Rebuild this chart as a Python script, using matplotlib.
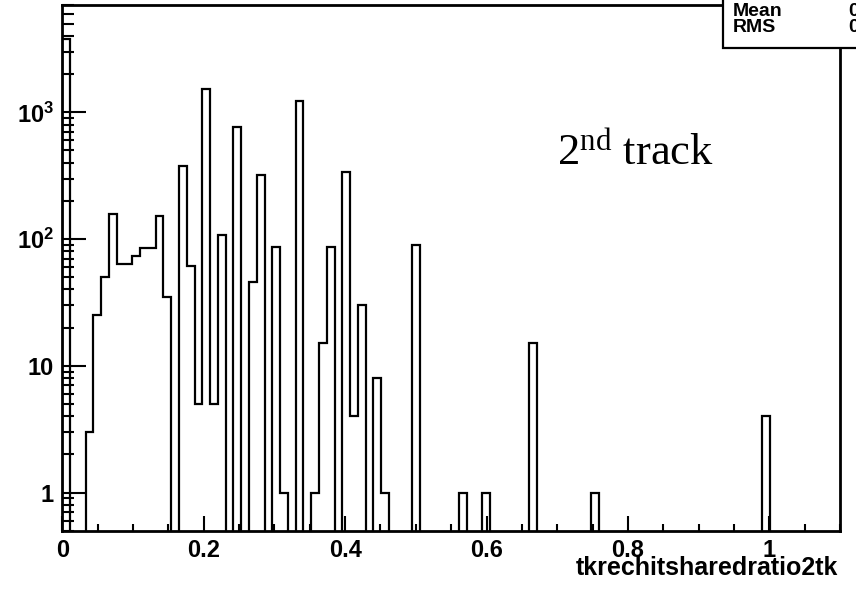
import numpy as np
import matplotlib
matplotlib.use("Agg")
import matplotlib.pyplot as plt
from matplotlib.ticker import FixedLocator, FixedFormatter, LogLocator, MultipleLocator, NullFormatter
from matplotlib.patches import Rectangle
from matplotlib.font_manager import FontProperties

# histogram: 100 bins over [0, 1.1]
n_bins = 100
x_lo, x_hi = 0.0, 1.1
counts = np.zeros(n_bins)
filled_bins = [0, 3, 4, 5, 6, 7, 8, 9, 10, 11, 12, 13, 15, 16, 17, 18, 19, 20,
               22, 24, 25, 27, 28, 30, 32, 33, 34, 36, 37, 38, 40, 41, 45,
               51, 54, 60, 68, 90]
filled_counts = [3760, 3, 25, 50, 158, 63, 64, 73, 85, 85, 153, 35, 379, 61, 5, 1515, 5, 107,
                 767, 46, 320, 87, 1, 1225, 1, 15, 87, 340, 4, 30, 8, 1, 89,
                 1, 1, 15, 1, 4]
counts[filled_bins] = filled_counts
edges = np.linspace(x_lo, x_hi, n_bins + 1)

y_ticks = [1, 10, 100, 1000]
y_labels = ["1", "10", r"$\mathregular{10^{2}}$", r"$\mathregular{10^{3}}$"]
x_title = "tkrechitsharedratio2tk"

centers = 0.5 * (edges[:-1] + edges[1:])
mean = np.sum(counts * centers) / counts.sum()
rms = np.sqrt(np.sum(counts * (centers - mean) ** 2) / counts.sum())

fig = plt.figure(figsize=(8.56, 5.90), dpi=100)
ax = fig.add_axes([0.0728, 0.1005, 0.9085, 0.8915])

ax.stairs(counts, edges, baseline=0, color="black", linewidth=1.6)
ax.set_yscale("log", nonpositive="clip")
ax.set_xlim(x_lo, x_hi)
ax.set_ylim(0.5, 7060)

for s in ax.spines.values():
    s.set_linewidth(2.0)

lab_font = dict(family="Liberation Sans", weight="bold", size=17)

ax.yaxis.set_major_locator(FixedLocator(y_ticks))
ax.yaxis.set_major_formatter(FixedFormatter(y_labels))
ax.yaxis.set_minor_locator(LogLocator(base=10, subs=np.arange(2, 10)))
ax.yaxis.set_minor_formatter(NullFormatter())
ax.xaxis.set_major_locator(MultipleLocator(0.2))
ax.xaxis.set_minor_locator(MultipleLocator(0.05))
ax.xaxis.set_major_formatter(plt.FuncFormatter(lambda v, p: "%g" % round(v, 2)))

ax.tick_params(axis="y", which="major", direction="in", length=17, width=1.5, pad=6)
ax.tick_params(axis="y", which="minor", direction="in", length=8.6, width=1.5)
ax.tick_params(axis="x", which="major", direction="in", length=10.8, width=1.5, pad=6)
ax.tick_params(axis="x", which="minor", direction="in", length=5, width=1.5)
for lab in ax.get_xticklabels() + ax.get_yticklabels():
    lab.set_fontproperties(FontProperties(**lab_font))

xl = ax.set_xlabel(x_title, loc="right", fontdict=dict(lab_font, size=18))
xl.set_verticalalignment("baseline")
ax.xaxis.set_label_coords(0.9974, -0.0842)

ax.text(0.636, 0.695, r"$\mathregular{2^{nd}}$ track", transform=ax.transAxes,
        family="Liberation Serif", size=32, va="baseline", ha="left")

# stats box in the upper right corner
fig.patches.append(Rectangle((0.8446, 0.918), 0.2, 0.1, transform=fig.transFigure,
                             facecolor="white", edgecolor="black", linewidth=1.6, zorder=5))
box_font = dict(family="Liberation Sans", weight="bold", size=14)
fig.text(0.856, 0.9729, "Mean", va="baseline", zorder=6, **box_font)
fig.text(0.856, 0.9458, "RMS", va="baseline", zorder=6, **box_font)
fig.text(0.9907, 0.9729, "%.4f" % mean, va="baseline", zorder=6, **box_font)
fig.text(0.9907, 0.9458, "%.4f" % rms, va="baseline", zorder=6, **box_font)

fig.savefig("out.png", dpi=100)
